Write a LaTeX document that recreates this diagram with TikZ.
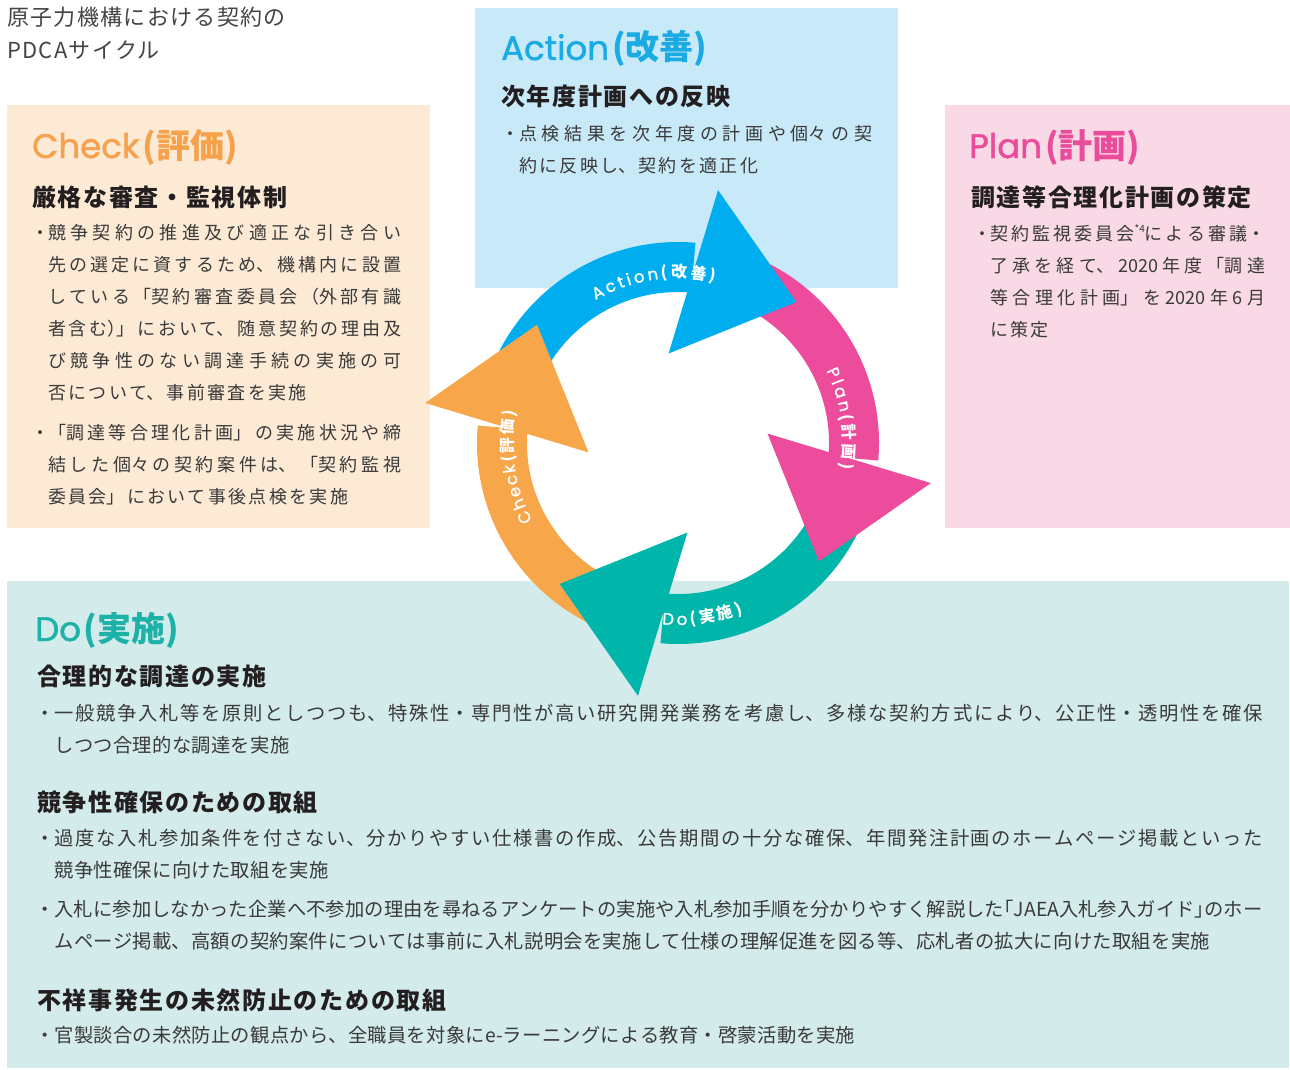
\documentclass[tikz,border=0pt]{standalone}
\usepackage{fontspec}
\setmainfont{Noto Sans CJK JP}
\newfontfamily\cjk{Noto Sans CJK JP}
\newfontfamily\pop{Poppins}[FakeBold=1.4]
\newfontfamily\popl{Poppins}[FakeBold=1.0]
\usetikzlibrary{decorations.text}
\XeTeXlinebreaklocale "ja"
\definecolor{arrB}{HTML}{00AEEF}
\definecolor{arrP}{HTML}{EC4C9B}
\definecolor{arrO}{HTML}{F8A64A}
\definecolor{arrT}{HTML}{00B5AA}
\definecolor{boxB}{HTML}{C7E9F8}
\definecolor{boxO}{HTML}{FDEAD4}
\definecolor{boxP}{HTML}{FAD9E6}
\definecolor{boxT}{HTML}{D3EBEB}
\definecolor{ttlB}{HTML}{1AABE4}
\definecolor{ttlO}{HTML}{F6A24D}
\definecolor{ttlP}{HTML}{EA4C9C}
\definecolor{ttlT}{HTML}{1DB2A8}
\definecolor{headc}{HTML}{231F20}
\definecolor{bodyc}{HTML}{3A3A3A}
\definecolor{capc}{HTML}{444444}
\newcommand\bodyfont{\cjk\fontsize{18}{32}\selectfont\XeTeXlinebreakskip=2.3pt plus 4pt minus 1.2pt\relax}
\newcommand\dofont{\cjk\fontsize{19.3}{32}\selectfont\XeTeXlinebreakskip=0.3pt plus 3pt minus 0.8pt\relax}
\newcommand\headfont{\cjk\bfseries\fontsize{24}{28}\selectfont\addfontfeature{LetterSpace=7}}
\newcommand\capfont{\cjk\fontsize{22}{33}\selectfont\addfontfeature{LetterSpace=6}}
\newcommand\ttlfont{\fontsize{34}{40}\selectfont}
\newcommand\ttljp[1]{{\cjk\bfseries #1}}
\newcommand\labA{\popl\fontsize{16.5}{16.5}\selectfont}
\newcommand\labJ{\cjk\bfseries\fontsize{16}{16}\selectfont}
% bullet paragraph: bullet box width, text width, text
\newcommand\bitem[3]{\makebox[#1][l]{・}\parbox[t]{#2}{\baselineskip=32pt\relax #3}}
\tikzset{
  captxt/.style={anchor=base west, inner sep=0, text=capc, font=\capfont},
  ttl/.style={anchor=base west, inner sep=0, font=\ttlfont},
  headtxt/.style={anchor=base west, inner sep=0, text=headc, font=\headfont},
  para/.style={anchor=base west, inner sep=0, text=bodyc, font=\bodyfont},
  dopara/.style={anchor=base west, inner sep=0, text=bodyc, font=\dofont},
}
\begin{document}
\begin{tikzpicture}[x=1pt,y=-1pt]
\useasboundingbox (0,0) rectangle (1290,1070);
% panels
\fill[boxB] (475,8) rectangle (898,288);
\fill[boxO] (7,105) rectangle (430,528);
\fill[boxP] (945,105) rectangle (1290,528);
\fill[boxT] (7,581) rectangle (1289,1068);

% caption
\node[captxt] (cap1) at (7,26) {原子力機構における契約の};
\node[captxt] (cap2) at (7,59) {PDCAサイクル};

% Action
\node[ttl, text=ttlB] (tA) at (501,60) {{\pop Action}\kern3pt\ttljp{(改善)}};
\node[headtxt] (hA) at (501,106) {次年度計画への反映};
\node[para] (pA) at (501,141) {\bitem{18pt}{353pt}{点検結果を次年度の計画や個々の契\linebreak 約に反映し、契約を適正化}};

% Check
\node[ttl, text=ttlO] (tC) at (32,158) {{\pop Check}\kern3pt\ttljp{(評価)}};
\node[headtxt] (hC) at (32,206) {厳格な審査・監視体制};
\node[para] (pC1) at (31,239) {\bitem{17pt}{353pt}{競争契約の推進及び適正な引き合い\linebreak 先の選定に資するため、機構内に設置\linebreak している「契約審査委員会（外部有識\linebreak 者含む）\kern-0.5em」において、随意契約の理由及\linebreak び競争性のない調達手続の実施の可\linebreak 否について、事前審査を実施}};
\node[para] (pC2) at (31,439) {\bitem{17pt}{353pt}{「調達等合理化計画」の実施状況や締\linebreak 結した個々の契約案件は、「契約監視\linebreak 委員会」において事後点検を実施}};

% Plan
\node[ttl, text=ttlP] (tP) at (969,158) {{\pop Plan}\kern3pt\ttljp{(計画)}};
\node[headtxt] (hP) at (971,206) {調達等合理化計画の策定};
\node[para] (pP) at (973,240) {\bitem{17pt}{275pt}{契約監視委員会\raisebox{0.42em}{\fontsize{10}{10}\selectfont *4}による審議・\linebreak 了承を経て、2020年度「調達\linebreak 等合理化計画」を2020年6月\linebreak に策定}};

% Do
\node[ttl, text=ttlT] (tD) at (35,641) {{\pop Do}\kern3pt\ttljp{(実施)}};
\node[headtxt] (hD1) at (37,685) {合理的な調達の実施};
\node[dopara] (pD1) at (35,720) {\bitem{19.3pt}{1208pt}{一般競争入札等を原則としつつも、特殊性・専門性が高い研究開発業務を考慮し、多様な契約方式により、公正性・透明性を確保\linebreak しつつ合理的な調達を実施}};
\node[headtxt] (hD2) at (37,811) {競争性確保のための取組};
\node[dopara] (pD2) at (35,845) {\bitem{19.3pt}{1208pt}{過度な入札参加条件を付さない、分かりやすい仕様書の作成、公告期間の十分な確保、年間発注計画のホームページ掲載といった\linebreak 競争性確保に向けた取組を実施}};
\node[dopara] (pD3) at (35,916) {\bitem{19.3pt}{1208pt}{入札に参加しなかった企業へ不参加の理由を尋ねるアンケートの実施や入札参加手順を分かりやすく解説した\kern-0.5em「JAEA入札参入ガイド」\kern-0.5em のホー\linebreak ムページ掲載、高額の契約案件については事前に入札説明会を実施して仕様の理解促進を図る等、応札者の拡大に向けた取組を実施}};
\node[headtxt] (hD3) at (37,1009) {不祥事発生の未然防止のための取組};
\node[dopara] (pD4) at (35,1042) {\bitem{19.3pt}{1208pt}{官製談合の未然防止の観点から、全職員を対象にe-ラーニングによる教育・啓蒙活動を実施}};

% PDCA cycle
\begin{scope}[shift={(678,443)}]
  % shafts
  \fill[arrB] (170:201pt) arc[start angle=170, end angle=85, radius=201pt] -- (85:151pt) arc[start angle=85, end angle=170, radius=151pt] -- cycle;
  \fill[arrP] (80:201pt) arc[start angle=80, end angle=-5, radius=201pt] -- (-5:151pt) arc[start angle=-5, end angle=80, radius=151pt] -- cycle;
  \fill[arrT] (-10:201pt) arc[start angle=-10, end angle=-95, radius=201pt] -- (-95:151pt) arc[start angle=-95, end angle=-10, radius=151pt] -- cycle;
  \fill[arrO] (260:201pt) arc[start angle=260, end angle=175, radius=201pt] -- (175:151pt) arc[start angle=175, end angle=260, radius=151pt] -- cycle;
  % heads
  \fill[arrB] (96:90pt) -- (50:184pt) -- (81:256pt) -- cycle;
  \fill[arrP] (6:90pt) -- (-40:184pt) -- (-9:256pt) -- cycle;
  \fill[arrT] (-84:90pt) -- (-130:184pt) -- (-99:256pt) -- cycle;
  \fill[arrO] (186:90pt) -- (140:184pt) -- (171:256pt) -- cycle;
  % labels
  \path[decorate, decoration={text along path, text align=fit to path, text color=white,
     text={|\labA|Action|\labJ|(改善)}}]
     (120:165pt) arc[start angle=120, end angle=77, radius=165pt];
  \path[decorate, decoration={text along path, text align=fit to path, text color=white,
     text={|\labA|Plan|\labJ|(計画)}}]
     (26:165pt) arc[start angle=26, end angle=-9, radius=165pt];
  \path[decorate, decoration={text along path, text align=fit to path, text color=white,
     text={|\labA|Do|\labJ|(実施)}}]
     (-95:182pt) arc[start angle=-95, end angle=-69, radius=182pt];
  \path[decorate, decoration={text along path, text align=fit to path, text color=white,
     text={|\labA|Check|\labJ|(評価)}}]
     (208:165pt) arc[start angle=208, end angle=169, radius=165pt];
\end{scope}
\end{tikzpicture}
\end{document}
